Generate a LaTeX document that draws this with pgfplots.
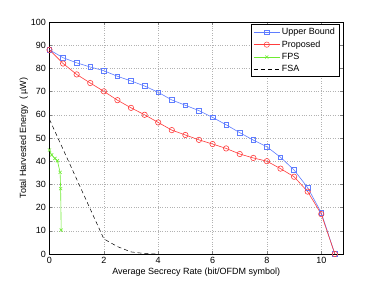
\documentclass[border=0pt]{standalone}
\usepackage{fontspec}
\setmainfont{Liberation Sans}
\usepackage{pgfplots}
\pgfplotsset{compat=1.18}
\definecolor{ubblue}{RGB}{95,125,255}
\definecolor{prred}{RGB}{255,60,60}
\definecolor{fpsgreen}{RGB}{110,235,50}
\begin{document}
\begin{tikzpicture}
\begin{axis}[
  scale only axis,
  width=293.5pt, height=232pt,
  xmin=0, xmax=10.8, ymin=0, ymax=100,
  xtick={0,2,4,6,8,10}, ytick={0,10,...,100},
  tick align=inside, tick pos=both,
  major tick length=3pt,
  grid=major,
  grid style={gray!60, dotted, line width=0.5pt},
  axis line style={line width=0.8pt},
  /pgf/number format/assume math mode=true,
  tick label style={font=\fontsize{9}{10}\selectfont},
  label style={font=\fontsize{9}{10}\selectfont},
  xlabel={Average Secrecy Rate (bit/OFDM symbol)},
  ylabel={Total Harvested Energy\ \ ( µW)},
  xlabel style={yshift=3pt},
  ylabel style={yshift=-4pt},
  legend style={at={(rel axis cs:0.987,0.99)}, anchor=north east,
    font=\fontsize{9}{10}\selectfont, draw=black, line width=0.6pt,
    inner xsep=2pt, inner ysep=1.5pt, row sep=0.5pt},
  legend cell align=left,
  legend image post style={line width=0.5pt},
  legend image code/.code={\draw[mark repeat=2,mark phase=2] plot coordinates {(0cm,0cm) (0.45cm,0cm) (0.9cm,0cm)};},
]
\addplot[ubblue, line width=0.6pt, mark=square, mark size=2.3pt, mark options={solid}] coordinates {
(0,88) (0.5,84.6) (1,82.4) (1.5,80.6) (2,79.0) (2.5,76.6) (3,74.6) (3.5,72.4) (4,69.7) (4.5,66.4) (5,64.1)
(5.5,61.8) (6,58.9) (6.5,55.7) (7,52.3) (7.5,49.1) (8,46.2) (8.5,41.7) (9,36.2) (9.5,28.6) (10,17.8) (10.5,0)};
\addlegendentry{Upper Bound}
\addplot[prred, line width=0.6pt, mark=o, mark size=2.7pt, mark options={solid}] coordinates {
(0,88) (0.5,82.1) (1,77.4) (1.5,73.7) (2,70.1) (2.5,66.3) (3,63.0) (3.5,60.0) (4,56.7) (4.5,53.4) (5,51.3)
(5.5,49.2) (6,47.4) (6.5,45.5) (7,43.1) (7.5,41.4) (8,40.0) (8.5,36.8) (9,33.3) (9.5,26.9) (10,17.2) (10.5,0)};
\addlegendentry{Proposed}
\addplot[fpsgreen, line width=0.6pt, mark=x, mark size=2.2pt, mark options={solid}] coordinates {
(0,44.8) (0.08,42.7) (0.2,41.2) (0.29,40.2) (0.39,35.2) (0.41,28.2) (0.43,10.3)};
\addlegendentry{FPS}
\addplot[black, line width=0.5pt, dashed, dash pattern=on 4pt off 3pt] coordinates {
(0,58) (2,6.5) (2.5,3.2) (3,0.9) (3.5,0.2) (4,0)};
\addlegendentry{FSA}
\end{axis}
\useasboundingbox (current axis.south west) ++(-49.5pt,-32pt) rectangle ([xshift=36pt,yshift=22pt]current axis.north east);
\end{tikzpicture}
\end{document}
